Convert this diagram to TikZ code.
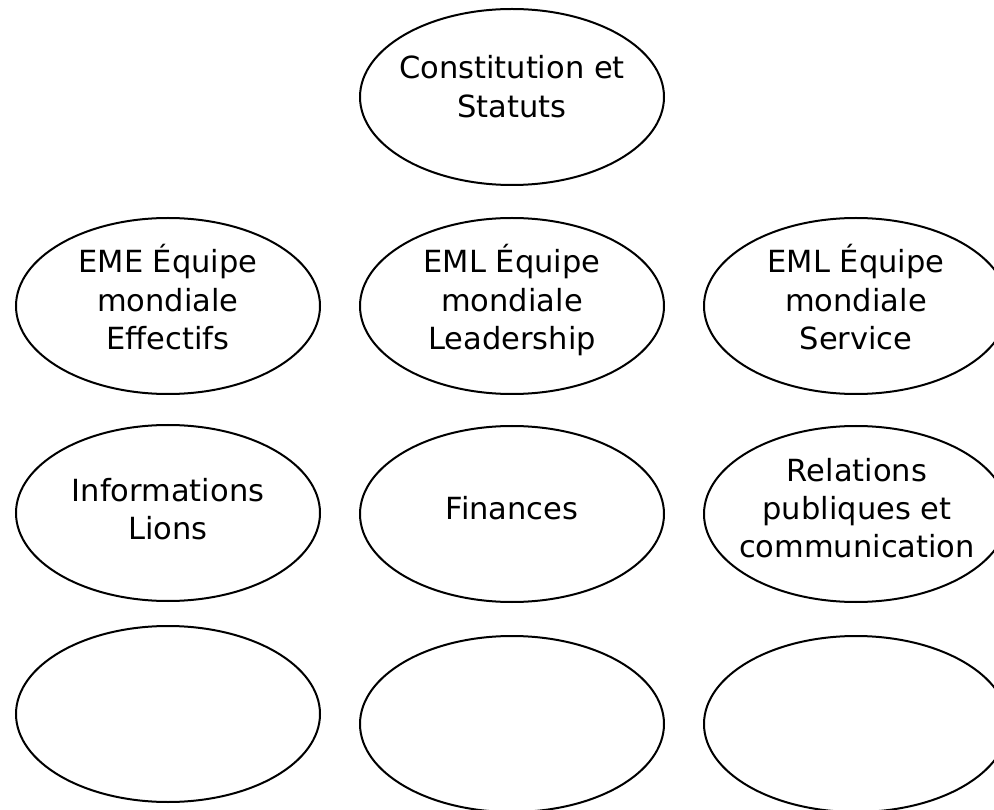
\documentclass[tikz,border=0pt]{standalone}
\usepackage{fontspec}
\setmainfont{DejaVu Sans}
\usetikzlibrary{shapes.geometric}
\newcommand{\mlines}[1]{\vtop{\baselineskip=38.5pt\lineskiplimit=0pt\halign{\hfil##\hfil\cr#1\crcr}}}
\tikzset{
  oval/.style={ellipse, draw=black, line width=2pt, minimum width=304pt, minimum height=176pt, inner sep=0pt},
  lbl/.style={anchor=base, inner sep=0pt, font=\fontsize{30.5}{38.5}\selectfont, text=black}
}
\begin{document}
\begin{tikzpicture}[x=1pt,y=-1pt]
\useasboundingbox (0,0) rectangle (994,810);
\clip (0,0) rectangle (994,810);
\fill[white] (0,0) rectangle (994,810);
% ovals
\node[oval] (cs) at (512,97) {};
\node[oval] (eme) at (168,306) {};
\node[oval] (emlL) at (512,306) {};
\node[oval] (emlS) at (856,306) {};
\node[oval] (info) at (168,513) {};
\node[oval] (fin) at (512,514) {};
\node[oval] (rp) at (856,514) {};
\node[oval] (e1) at (168,714) {};
\node[oval] (e2) at (512,724) {};
\node[oval] (e3) at (856,724) {};
% labels
\node[lbl] (tcs) at (512,79) {\mlines{Constitution et\cr Statuts}};
\node[lbl] (teme) at (168,273) {\mlines{EME Équipe\cr mondiale\cr Effectifs}};
\node[lbl] (temlL) at (512,273) {\mlines{EML Équipe\cr mondiale\cr Leadership}};
\node[lbl] (temlS) at (856,273) {\mlines{EML Équipe\cr mondiale\cr Service}};
\node[lbl] (tinfo) at (168,501) {\mlines{Informations\cr Lions}};
\node[lbl] (tfin) at (512,519) {Finances};
\node[lbl] (trp) at (857,481) {\mlines{Relations\cr publiques et\cr communication}};
\end{tikzpicture}
\end{document}
